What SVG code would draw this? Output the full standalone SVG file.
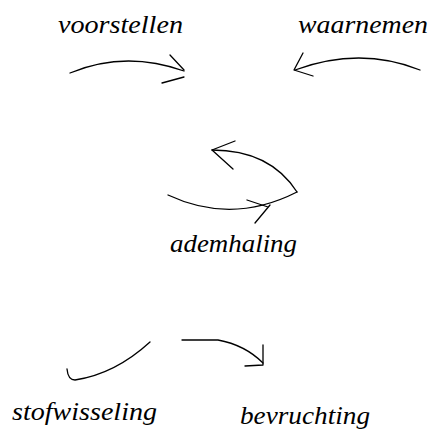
<svg xmlns="http://www.w3.org/2000/svg" width="433" height="433" viewBox="0 0 433 433">
<style>
.lbl{font-family:"Liberation Serif","DejaVu Serif",serif;font-style:italic;font-size:25px;fill:#000}
.c{fill:none;stroke:#000;stroke-width:1.3;stroke-linecap:round;stroke-linejoin:round}
</style>
<rect width="433" height="433" fill="#fff"/>
<g id="voorstellen"><text class="lbl" x="58" y="33" textLength="125" lengthAdjust="spacingAndGlyphs">voorstellen</text></g>
<g id="waarnemen"><text class="lbl" x="298" y="33" textLength="130" lengthAdjust="spacingAndGlyphs">waarnemen</text></g>
<g id="ademhaling"><text class="lbl" x="170" y="252" textLength="127" lengthAdjust="spacingAndGlyphs">ademhaling</text></g>
<g id="stofwisseling"><text class="lbl" x="12" y="420" textLength="145" lengthAdjust="spacingAndGlyphs">stofwisseling</text></g>
<g id="bevruchting"><text class="lbl" x="240" y="424" textLength="130" lengthAdjust="spacingAndGlyphs">bevruchting</text></g>
<g id="connectors">
<path class="c" d="M70,73 Q125,50 184,71"/>
<path class="c" d="M170,55 L184,70 M162,83 L184,77"/>
<path class="c" d="M420,70 Q360,46 295,70"/>
<path class="c" d="M303,53 L294,70 L313,76"/>
<path class="c" d="M168,195 Q232,225 297,192"/>
<path class="c" d="M247,200 L268,207 M255,223 L270,205"/>
<path class="c" d="M297,192 Q270,150 212,150"/>
<path class="c" d="M212,150 L235,141 M212,150 L233,169"/>
<path class="c" d="M150,342 Q115,374 75,380 Q68,380 67,369"/>
<path class="c" d="M182,340 L218,340 Q245,345 263,363"/>
<path class="c" d="M263,345 L263,365 L245,366"/>
</g>
</svg>
